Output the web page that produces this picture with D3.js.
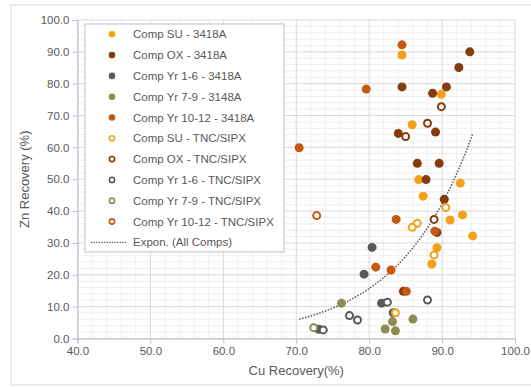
<!DOCTYPE html>
<html><head><meta charset="utf-8">
<script src="https://cdn.jsdelivr.net/npm/d3@7/dist/d3.min.js"></script>
<style>body{margin:0;background:#fff;} svg{display:block;font-family:"Liberation Sans",Arial,sans-serif;}</style>
</head><body><svg id="c" width="531" height="387"></svg>
<script>
const seriesNames = ["Comp SU - 3418A","Comp OX - 3418A","Comp Yr 1-6 - 3418A","Comp Yr 7-9 - 3148A","Comp Yr 10-12 - 3418A",
  "Comp SU - TNC/SIPX","Comp OX - TNC/SIPX","Comp Yr 1-6 - TNC/SIPX","Comp Yr 7-9 - TNC/SIPX","Comp Yr 10-12 - TNC/SIPX"];
const seriesColors = ["#f4a11a","#843c0c","#595959","#8c8a55","#c55a11","#f4a11a","#843c0c","#595959","#8c8a55","#c55a11"];
const seriesOpen = [false,false,false,false,false,true,true,true,true,true];
const suA   = [[84.5,89.0],[89.9,76.7],[85.9,67.1],[86.8,49.9],[92.5,48.8],[87.4,44.7],[91.1,37.2],[92.8,38.8],[94.2,32.2],[89.3,28.5],[88.6,23.4]];
const oxA   = [[93.8,90.0],[92.3,85.1],[84.5,79.0],[90.6,79.0],[88.7,77.0],[84.0,64.4],[89.1,64.8],[86.6,55.0],[89.6,55.0],[87.8,49.9],[90.3,43.7],[89.3,33.3],[84.7,14.8]];
const y16A  = [[80.4,28.6],[79.3,20.2],[81.7,11.1],[83.3,8.1],[73.1,2.9]];
const y79A  = [[76.2,11.1],[83.2,5.3],[86.0,6.1],[82.2,3.0],[83.6,2.4]];
const y1012A= [[84.5,92.2],[79.6,78.3],[70.4,59.9],[83.7,37.4],[89.0,33.7],[80.9,22.4],[83.0,21.5],[85.1,14.8]];
const suT   = [[90.5,41.1],[86.6,36.2],[85.9,34.9],[88.9,26.2],[83.6,8.1]];
const oxT   = [[89.9,72.8],[88.0,67.6],[85.0,63.4],[88.9,37.4]];
const y16T  = [[82.5,11.4],[88.0,12.1],[77.3,7.2],[78.4,5.8],[73.7,2.7]];
const y79T  = [[72.4,3.4]];
const y1012T= [[72.8,38.6]];
const seriesData = [suA,oxA,y16A,y79A,y1012A,suT,oxT,y16T,y79T,y1012T];
const xTicks = [40,50,60,70,80,90,100];
const yTicks = [0,10,20,30,40,50,60,70,80,90,100];
const trendLabel = "Expon. (All Comps)";
const trendA = 6.1, trendB = 0.0994, trendX0 = 70.5; // y = A*exp(B*(x-x0))

const svg = d3.select("#c");
const L=77.5,R=515,T=20,B=338.5;
const x = d3.scaleLinear().domain([40,100]).range([L,R]);
const y = d3.scaleLinear().domain([0,100]).range([B,T]);

svg.append("rect").attr("x",11).attr("y",5).attr("width",530).attr("height",380)
  .attr("fill","#fff").attr("stroke","#d9d9d9");

// minor grid
const g = svg.append("g");
d3.range(40,100.01,2).forEach(v=>{ if(v%10!==0) g.append("line").attr("x1",x(v)).attr("x2",x(v)).attr("y1",T).attr("y2",B).attr("stroke","#efefef");});
d3.range(0,100.01,2).forEach(v=>{ if(v%10!==0) g.append("line").attr("y1",y(v)).attr("y2",y(v)).attr("x1",L).attr("x2",R).attr("stroke","#efefef");});
xTicks.forEach(v=>g.append("line").attr("x1",x(v)).attr("x2",x(v)).attr("y1",T).attr("y2",B).attr("stroke","#d9d9d9"));
yTicks.forEach(v=>g.append("line").attr("y1",y(v)).attr("y2",y(v)).attr("x1",L).attr("x2",R).attr("stroke","#d9d9d9"));

const xa = svg.append("g").attr("transform",`translate(0,${B})`)
  .call(d3.axisBottom(x).tickValues(xTicks).tickFormat(d3.format(".1f")).tickSize(5).tickPadding(3));
const ya = svg.append("g").attr("transform",`translate(${L},0)`)
  .call(d3.axisLeft(y).tickValues(yTicks).tickFormat(d3.format(".1f")).tickSize(5).tickPadding(3));
[xa,ya].forEach(a=>{a.selectAll("path,line").attr("stroke","#bfbfbf");
  a.selectAll("text").attr("fill","#595959").style("font-size","11.5px");});

svg.append("text").attr("x",(L+R)/2).attr("y",375).attr("text-anchor","middle")
  .attr("fill","#595959").style("font-size","13px").text("Cu Recovery(%)");
svg.append("text").attr("transform",`translate(29,${(T+B)/2}) rotate(-90)`).attr("text-anchor","middle")
  .attr("fill","#595959").style("font-size","13px").text("Zn Recovery (%)");

// trendline
const xs = seriesData.flat().map(d=>d[0]);
const tx = d3.range(d3.min(xs), d3.max(xs)+0.001, 0.2);
svg.append("path").datum(tx).attr("fill","none").attr("stroke","#595959").attr("stroke-width",1.5)
  .attr("stroke-dasharray","1.5,1.5")
  .attr("d",d3.line().x(d=>x(d)).y(d=>y(trendA*Math.exp(trendB*(d-trendX0)))));

// points
seriesData.forEach((data,i)=>{
  svg.append("g").selectAll("circle").data(data).join("circle")
    .attr("cx",d=>x(d[0])).attr("cy",d=>y(d[1]))
    .attr("r",seriesOpen[i]?3.5:4.5)
    .attr("fill",seriesOpen[i]?"#fff":seriesColors[i])
    .attr("stroke",seriesOpen[i]?seriesColors[i]:"none")
    .attr("stroke-width",2);
});

// legend
const lg = svg.append("g");
lg.append("rect").attr("x",85).attr("y",24).attr("width",199).attr("height",228)
  .attr("fill","#fff").attr("stroke","#bfbfbf");
seriesNames.forEach((n,i)=>{
  const yy = 34.3 + i*20.8;
  lg.append("circle").attr("cx",112).attr("cy",yy).attr("r",seriesOpen[i]?2.6:3.3)
    .attr("fill",seriesOpen[i]?"#fff":seriesColors[i]).attr("stroke",seriesOpen[i]?seriesColors[i]:"none").attr("stroke-width",1.6);
  lg.append("text").attr("x",133).attr("y",yy).attr("dy","0.35em").attr("fill","#595959")
    .style("font-size","11.5px").text(n);
});
const ty = 34.3 + 10*20.8;
lg.append("line").attr("x1",91).attr("x2",127).attr("y1",ty).attr("y2",ty)
  .attr("stroke","#595959").attr("stroke-width",1.3).attr("stroke-dasharray","1.3,1.3");
lg.append("text").attr("x",133).attr("y",ty).attr("dy","0.35em").attr("fill","#595959")
  .style("font-size","11.5px").text(trendLabel);
</script></body></html>
